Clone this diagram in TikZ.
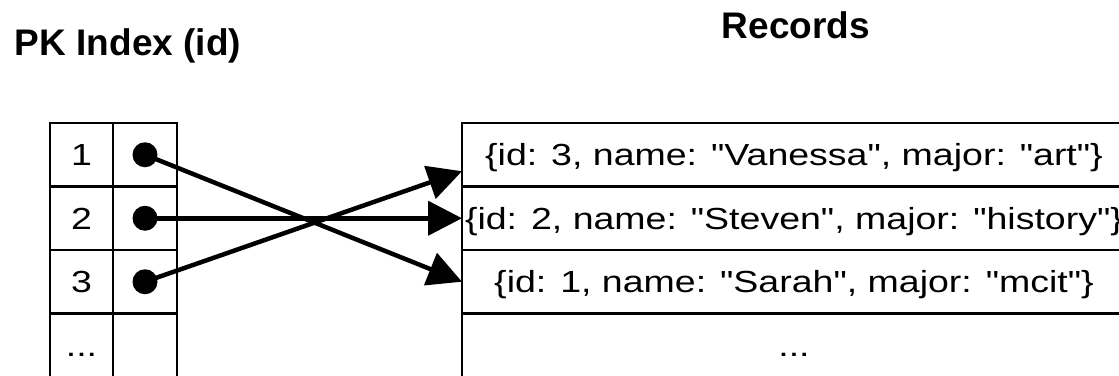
\documentclass[tikz,border=0pt]{standalone}
\usepackage{fontspec}
\setmainfont{Liberation Sans}
\newfontfamily\cellfont[FakeStretch=1.23]{Liberation Sans}
\usepackage{tikz}
\usetikzlibrary{arrows.meta}

\begin{document}
\begin{tikzpicture}[x=1pt, y=-1pt,
  title/.style={anchor=base, font=\bfseries\fontsize{37}{44}\selectfont},
  cell/.style={draw, line width=2.2pt, inner sep=0pt, outer sep=0pt,
    minimum height=63.5pt, text height=22pt, text depth=0pt,
    font=\cellfont\fontsize{30.5}{36}\selectfont},
  keycell/.style={cell, minimum width=63pt},
  ptrcell/.style={cell, minimum width=64pt},
  reccell/.style={cell, minimum width=664pt},
  dot/.style={circle, fill, inner sep=0pt, minimum size=25pt},
  ptr/.style={line width=4.5pt, -{Triangle[length=34pt, width=34pt]}}]
  \useasboundingbox (0,0) rectangle (1119,375);
  \clip (0,0) rectangle (1119,375);

  \node[title] (idxtitle) at (128, 55) {PK Index (id)};
  \node[title] (rectitle) at (796, 38) {Records};

  % index table
  \node[keycell] (k1) at (81.5, 154.75) {1};
  \node[keycell] (k2) at (81.5, 218.25) {2};
  \node[keycell] (k3) at (81.5, 281.75) {3};
  \node[keycell] (k4) at (81.5, 345.25) {...};
  \node[ptrcell] (p1) at (145, 154.75) {};
  \node[ptrcell] (p2) at (145, 218.25) {};
  \node[ptrcell] (p3) at (145, 281.75) {};
  \node[ptrcell] (p4) at (145, 345.25) {};

  % records
  \node[reccell] (rec1) at (794, 154.75) {\{id: 3, name: "Vanessa", major: "art"\}};
  \node[reccell] (rec2) at (794, 218.25) {\{id: 2, name: "Steven", major: "history"\}};
  \node[reccell] (rec3) at (794, 281.75) {\{id: 1, name: "Sarah", major: "mcit"\}};
  \node[reccell] (rec4) at (794, 345.25) {...};

  \node[dot] (dot1) at (p1.center) {};
  \node[dot] (dot2) at (p2.center) {};
  \node[dot] (dot3) at (p3.center) {};

  \draw[ptr] (dot1.center) -- (rec3.west);
  \draw[ptr] (dot2.center) -- (rec2.west);
  \draw[ptr] (dot3.center) -- ([yshift=15.3pt]rec1.south west);
\end{tikzpicture}
\end{document}
